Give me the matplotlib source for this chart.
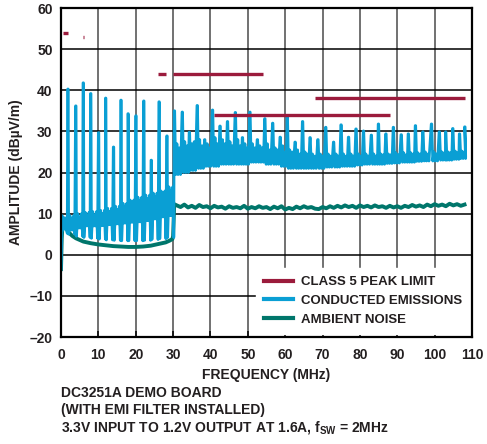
import matplotlib
matplotlib.use("Agg")
import matplotlib.pyplot as plt
from matplotlib.lines import Line2D

plt.rcParams['font.family'] = ['Liberation Sans', 'DejaVu Sans']
plt.rcParams['font.weight'] = 'bold'
plt.rcParams['mathtext.fontset'] = 'custom'
plt.rcParams['mathtext.rm'] = 'Liberation Sans:bold'
plt.rcParams['mathtext.bf'] = 'Liberation Sans:bold'
plt.rcParams['mathtext.it'] = 'Liberation Sans:bold'

RED = '#9b1b3c'
BLUE = '#0a9fd4'
GREEN = '#00766b'
TXT = '#231f20'

# class 5 peak limit segments: start MHz, end MHz, level dBuV/m
lim_start = [0.53, 5.9, 26.0, 30.0, 41.0, 68.0]
lim_end = [1.8, 6.2, 28.0, 54.0, 88.0, 108.0]
lim_level = [54, 53, 44, 44, 34, 38]

# conducted emissions: start of sweep
start_f = [0.0, 0.15, 0.3, 0.6, 1.0, 1.4, 1.68]
start_a = [-3.5, 2.0, 9.5, 6.0, 9.0, 6.5, 5.2]

# harmonic spikes (MHz) and their peak levels
harm_freq = [1.8, 3.9, 5.9, 7.9, 10.0, 11.9, 14.0, 16.0, 17.9, 20.0,
             22.1, 24.1, 26.2, 28.3, 30.3, 32.4, 34.3, 36.4, 38.4, 40.5,
             42.5, 44.5, 46.6, 48.5, 50.5, 52.5, 54.5, 56.6, 58.6, 60.5,
             62.6, 64.6, 66.6, 68.7, 70.8, 72.9, 74.9, 76.9, 78.9, 80.9,
             83.0, 84.9, 86.9, 88.9, 91.0, 92.9, 94.8, 96.8, 99.1, 101.2,
             102.9, 104.8, 106.6]
harm_peak = [40.3, 36.2, 41.8, 39.2, 29.7, 38.1, 26.2, 37.6, 34.3, 33.8,
             37.4, 23.0, 37.2, 28.9, 35.0, 34.7, 29.8, 36.3, 28.0, 35.2,
             31.3, 32.4, 34.6, 28.5, 34.7, 28.0, 33.1, 32.0, 28.6, 33.5,
             27.4, 32.4, 28.5, 28.0, 31.0, 27.4, 31.6, 28.6, 30.6, 30.1,
             29.1, 31.8, 29.4, 31.0, 29.2, 29.4, 31.4, 29.9, 31.8, 29.9,
             29.9, 30.7, 29.4]
# upper edge of the band between spikes
tooth_a = [9.5, 10.0, 10.3, 10.5, 10.8, 11.3, 11.8, 12.5, 13.3, 14.0,
           14.5, 15.0, 15.5, 16.5, 27.0, 27.5, 27.0, 28.0, 27.0, 28.5,
           28.0, 27.5, 28.0, 27.0, 27.0, 26.5, 27.0, 26.0, 26.5, 25.5,
           25.5, 25.0, 24.5, 24.5, 24.5, 24.5, 24.5, 24.5, 24.5, 24.5,
           24.5, 24.5, 24.5, 24.8, 24.8, 24.8, 24.8, 25.0, 25.0, 25.0,
           25.0, 25.2, 25.2]
# lower edge of the band (below 30 MHz) / second tooth (above 30 MHz)
tooth_b = [6.0, 6.5, 7.0, 7.0, 7.1, 7.3, 7.5, 7.7, 7.9, 8.0,
           8.3, 8.7, 9.2, 9.5, 26.0, 26.5, 27.5, 26.5, 26.0, 27.0,
           27.0, 26.5, 26.5, 26.0, 26.0, 26.0, 25.5, 25.5, 25.0, 25.0,
           24.5, 24.5, 24.0, 24.0, 24.0, 24.0, 24.0, 24.0, 24.0, 24.0,
           24.0, 24.3, 24.3, 24.3, 24.3, 24.5, 24.5, 24.5, 24.5, 24.8,
           24.8, 24.8, 25.0]
# lowest dips of the trace
floor_lvl = [5.0, 4.5, 4.2, 4.0, 3.8, 3.6, 3.5, 3.4, 3.4, 3.4,
             3.5, 3.7, 3.9, 4.2, 19.5, 20.0, 20.5, 21.0, 21.5, 21.5,
             22.0, 22.0, 22.0, 22.0, 22.5, 22.5, 22.0, 22.0, 21.5, 21.0,
             21.0, 21.0, 21.0, 21.0, 21.3, 21.3, 21.5, 21.5, 21.8, 22.0,
             22.0, 22.0, 22.2, 22.3, 22.5, 22.5, 22.7, 22.8, 22.8, 23.0,
             23.0, 23.2, 23.4]
end_f = [108.0, 108.15, 108.3]
end_a = [31.1, 31.1, 24.0]

# ambient noise
amb_f = [0.0, 0.2, 0.5, 1, 2, 3, 4, 5, 6, 8, 10, 12, 14, 16, 18, 20, 22,
         24, 26, 28, 29, 29.8, 30.0, 30.3]
amb_a = [-3.5, 4.0, 8.5, 7.0, 5.5, 4.6, 4.0, 3.6, 3.2, 2.8, 2.5, 2.3, 2.1,
         2.0, 1.9, 1.9, 2.0, 2.2, 2.6, 3.0, 3.4, 3.8, 4.5, 12.3]
amb_hi_f = list(range(31, 109))
amb_hi_a = [12.0, 11.6, 12.2, 11.5, 11.9, 11.4, 12.1, 11.6, 11.8, 11.3,
            11.9, 11.5, 11.7, 11.2, 11.8, 11.4, 11.6, 11.3, 11.9, 11.2,
            11.6, 11.3, 11.8, 11.4, 11.6, 11.1, 11.7, 11.3, 11.8, 11.0,
            11.4, 11.1, 11.7, 11.3, 11.8, 11.4, 11.6, 11.2, 11.1, 11.6,
            11.3, 11.8, 11.4, 11.9, 11.5, 12.0, 11.6, 11.9, 11.4, 12.0,
            11.6, 11.9, 11.5, 12.0, 11.6, 11.8, 11.4, 11.9, 11.5, 11.8,
            11.4, 11.9, 11.6, 12.1, 11.7, 12.0, 11.6, 12.2, 11.8, 12.3,
            11.9, 12.2, 11.8, 12.4, 12.0, 12.3, 11.9, 12.2]

xticks = list(range(0, 111, 10))
yticks = list(range(-20, 61, 10))
ytick_labels = ['\u201320', '\u201310', '0', '10', '20', '30', '40', '50', '60']

# build the emissions trace from the read values
ce_f = list(start_f)
ce_a = list(start_a)
for i in range(len(harm_freq)):
    f = harm_freq[i]
    ce_f += [f, f + 0.12]  # flat-topped spike
    ce_a += [harm_peak[i], harm_peak[i]]
    if f < 29:
        lo, hi, dip = tooth_b[i], tooth_a[i], floor_lvl[i]
        ce_f += [f + 0.24, f + 0.6, f + 0.88, f + 1.08, f + 1.32, f + 1.6, f + 1.88]
        ce_a += [dip, hi, lo, hi - 0.8, lo, hi, dip]
    else:
        ce_f += [f + 0.4, f + 0.72, f + 1.02, f + 1.36, f + 1.68]
        ce_a += [floor_lvl[i], tooth_a[i], floor_lvl[i], tooth_b[i], floor_lvl[i]]
ce_f += end_f
ce_a += end_a

fig = plt.figure(figsize=(4.87, 4.44), dpi=100)
ax = fig.add_axes([61 / 487, 1 - 337 / 444, 411 / 487, 329 / 444])

for x in xticks:
    ax.axvline(x, color='#4a4a4a', lw=1.1, zorder=1)
for y in yticks:
    ax.axhline(y, color='black', lw=1.1, zorder=1)

ax.plot(amb_f + amb_hi_f, amb_a + amb_hi_a, color=GREEN, lw=2.8, zorder=2)
ax.plot(ce_f, ce_a, color=BLUE, lw=2.0, zorder=3)
for s, e, lv in zip(lim_start, lim_end, lim_level):
    ax.plot([s, e], [lv, lv], color=RED, lw=2.4, zorder=4, solid_capstyle='butt')

ax.set_xlim(0, 110)
ax.set_ylim(-20, 60)
ax.set_xticks(xticks)
ax.set_yticks(yticks)
ax.set_yticklabels(ytick_labels)
ax.tick_params(axis='x', direction='in', length=4, width=1.1, pad=8, labelsize=10,
               labelcolor=TXT)
ax.tick_params(axis='y', direction='in', length=0, pad=6, labelsize=10,
               labelcolor=TXT)
for sp in ax.spines.values():
    sp.set_linewidth(1.6)
    sp.set_zorder(6)

handles = [Line2D([], [], color=RED, lw=3),
           Line2D([], [], color=BLUE, lw=3),
           Line2D([], [], color=GREEN, lw=3)]
labels = ['CLASS 5 PEAK LIMIT', 'CONDUCTED EMISSIONS', 'AMBIENT NOISE']
leg = ax.legend(handles, labels, loc='lower right', bbox_to_anchor=(0.995, 0.01),
                frameon=True, fancybox=False, framealpha=1, edgecolor='white',
                fontsize=9.5, handlelength=2.2, handletextpad=0.6,
                borderpad=0.6, labelspacing=0.5, borderaxespad=0)
leg.set_zorder(5)
for t in leg.get_texts():
    t.set_color(TXT)

fig.text(16 / 487, 1 - 172 / 444, 'AMPLITUDE (dB\u00b5V/m)', rotation=90,
         ha='center', va='center', fontsize=10, color=TXT)
fig.text(266 / 487, 1 - 375 / 444, 'FREQUENCY (MHz)', ha='center', va='center',
         fontsize=10, color=TXT)
fig.text(61 / 487, 1 - 393 / 444, 'DC3251A DEMO BOARD', ha='left', va='center',
         fontsize=10, color=TXT)
fig.text(61 / 487, 1 - 410 / 444, '(WITH EMI FILTER INSTALLED)', ha='left',
         va='center', fontsize=10, color=TXT)
fig.text(61 / 487, 1 - 427 / 444,
         '3.3V INPUT TO 1.2V OUTPUT AT 1.6A, f$_{\\mathregular{SW}}$ = 2MHz',
         ha='left', va='center', fontsize=10, color=TXT)

fig.savefig('out.png', dpi=100)
